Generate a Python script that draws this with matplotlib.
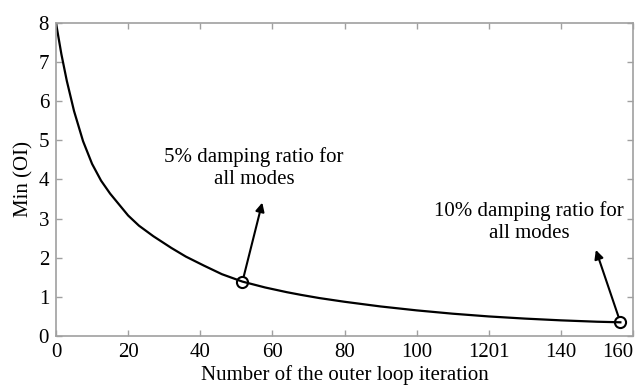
import matplotlib
matplotlib.use("Agg")
import matplotlib.pyplot as plt

plt.rcParams['font.family'] = ['Liberation Serif', 'DejaVu Serif']

# values
iters = [0, 1.5, 3, 5, 7.5, 10, 12.5, 15, 20, 23, 27, 32, 36, 41, 46, 51.7,
         58, 64, 68, 73, 80, 90, 100, 110, 120, 130, 140, 150, 156.5]
min_oi = [8.0, 7.2, 6.52, 5.75, 4.98, 4.4, 3.97, 3.64, 3.08, 2.82, 2.55, 2.25,
          2.03, 1.80, 1.58, 1.39, 1.24, 1.12, 1.05, 0.97, 0.875, 0.755, 0.655,
          0.57, 0.50, 0.445, 0.40, 0.365, 0.35]

marked_x = [51.7, 156.5]
marked_y = [1.39, 0.35]
arrow_tips = [(57.2, 3.41), (149.7, 2.2)]
notes = ["5% damping ratio for\nall modes", "10% damping ratio for\nall modes"]
note_pos = [(54.9, 4.3), (131.2, 2.92)]

xticks = [0, 20, 40, 60, 80, 100, 120, 140, 160]
xticklabels = ['0', '20', '40', '60', '80', '100', '1201', '140', '160']
yticks = [0, 1, 2, 3, 4, 5, 6, 7, 8]

fig = plt.figure(figsize=(6.38, 3.85), dpi=100)
ax = fig.add_axes([56 / 638, 1 - 336 / 385, 577 / 638, 313 / 385])

ax.plot(iters, min_oi, color='k', lw=1.6, solid_joinstyle='round')
ax.plot(marked_x, marked_y, 'o', ms=8, mfc='none', mec='k', mew=1.5)

for (x0, y0), tip, txt, pos in zip(zip(marked_x, marked_y), arrow_tips, notes, note_pos):
    ax.annotate('', xy=tip, xytext=(x0, y0),
                arrowprops=dict(arrowstyle='-|>', color='k', lw=1.5,
                                mutation_scale=13, shrinkA=4, shrinkB=0))
    ax.text(pos[0], pos[1], txt, ha='center', va='center', fontsize=15,
            multialignment='center', linespacing=1.2)

ax.set_xlim(0, 160)
ax.set_ylim(0, 8)
ax.set_xticks(xticks)
ax.set_xticklabels(xticklabels)
ax.set_yticks(yticks)
ax.get_xticklabels()[-1].set_ha('right')

for s in ax.spines.values():
    s.set_color('#a0a0a0')
    s.set_linewidth(1.2)
ax.tick_params(direction='in', length=4, width=1, color='#a0a0a0',
               top=True, right=True, labelsize=15, pad=5)

ax.set_xlabel('Number of the outer loop iteration', fontsize=15, labelpad=2)
ax.set_ylabel('Min (OI)', fontsize=15, labelpad=4)

fig.savefig('out.png', dpi=100)
